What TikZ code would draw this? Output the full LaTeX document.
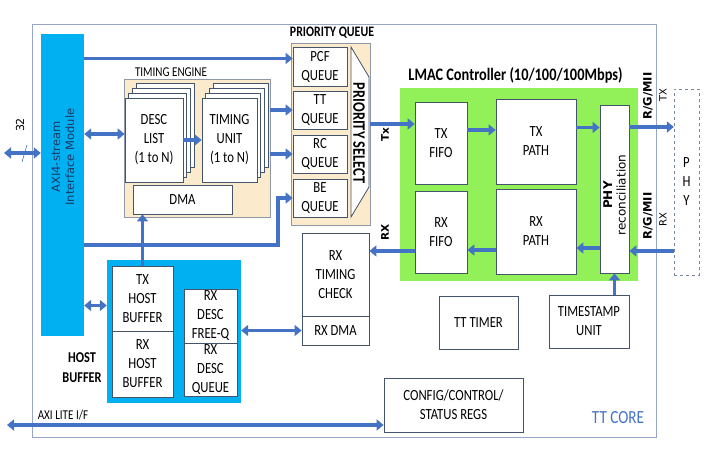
\documentclass[tikz,border=0pt]{standalone}
\usepackage{fontspec}
\setmainfont{Carlito}[FakeStretch=0.82]
\newfontfamily\widefont{DejaVu Sans}
\usetikzlibrary{arrows.meta}

\definecolor{busblue}{RGB}{68,114,196}
\definecolor{cyanblk}{RGB}{0,176,240}
\definecolor{engbeige}{RGB}{252,234,204}
\definecolor{macgreen}{RGB}{146,240,88}
\definecolor{boxline}{RGB}{68,84,106}
\definecolor{coreline}{RGB}{150,165,200}
\definecolor{navytext}{RGB}{31,56,100}

\begin{document}
\begin{tikzpicture}[x=1pt, y=-1pt,
  font=\fontsize{15.5}{19}\selectfont,
  blk/.style={draw=boxline, line width=0.8pt, fill=white, align=center, inner sep=0pt},
  bus/.style={busblue, line width=3.5pt, -{Triangle[width=11pt,length=7pt]}},
  bibus/.style={bus, {Triangle[width=11pt,length=7pt]}-{Triangle[width=11pt,length=7pt]}},
  sidelbl/.style={font=\widefont\bfseries\fontsize{10.5}{12}\selectfont, rotate=90, align=center}]
  \useasboundingbox (0,0) rectangle (720,462);

  % Define nodes
  \node[draw=coreline, line width=0.8pt, minimum width=624pt, minimum height=413pt] (core) at (344,230.5) {};
  \node[fill=cyanblk, minimum width=43pt, minimum height=302pt] (axi) at (62.5,185) {};
  \node[rotate=90, align=center, text=navytext, font=\widefont\fontsize{11.5}{14}\selectfont] (axilbl) at (63,157) {AXI4-stream\\Interface Module};

  % timing engine
  \node[draw=boxline!60, fill=engbeige, minimum width=146pt, minimum height=138pt] (te) at (197,148) {};
  \node[font=\fontsize{13.5}{15}\selectfont] (telbl) at (171,72) {TIMING ENGINE};
  \foreach \k in {3,2,1} {
    \node[blk, minimum width=58pt, minimum height=84pt] at ({154+3.7*\k},{140-4.7*\k}) {};
    \node[blk, minimum width=55pt, minimum height=84pt] at ({229.5+3.7*\k},{140-4.7*\k}) {};
  }
  \node[blk, minimum width=58pt, minimum height=84pt] (desc) at (154,140) {DESC\\LIST\\(1 to N)};
  \node[blk, minimum width=55pt, minimum height=84pt] (tu) at (229.5,140) {TIMING\\UNIT\\(1 to N)};
  \node[blk, minimum width=99pt, minimum height=29pt] (dma) at (182.5,199.5) {DMA};

  % priority queue
  \node[draw=boxline!60, fill=engbeige, minimum width=79pt, minimum height=182pt] (pq) at (330.5,134) {};
  \node[font=\bfseries\fontsize{14.5}{16}\selectfont] (pqlbl) at (332,33) {PRIORITY QUEUE};
  \node[blk, minimum width=54pt, minimum height=39pt] (pcf) at (320,66.5) {PCF\\QUEUE};
  \node[blk, minimum width=54pt, minimum height=38pt] (tt) at (320,110) {TT\\QUEUE};
  \node[blk, minimum width=54pt, minimum height=38pt] (rc) at (320,154) {RC\\QUEUE};
  \node[blk, minimum width=54pt, minimum height=38pt] (be) at (320,198) {BE\\QUEUE};
  \draw[boxline, line width=0.8pt, fill=white] (351,47) -- (369,77) -- (369,187) -- (351,217) -- cycle;
  \node[rotate=-90, font=\bfseries\fontsize{17.5}{18}\selectfont] (pslbl) at (359,133) {PRIORITY SELECT};

  % LMAC controller
  \node[fill=macgreen, minimum width=238pt, minimum height=193pt] (lmac) at (519,184.5) {};
  \node[font=\bfseries\fontsize{17.5}{20}\selectfont] (lmaclbl) at (515.5,75) {LMAC Controller (10/100/100Mbps)};
  \node[blk, minimum width=52pt, minimum height=82pt] (txfifo) at (441,143) {TX\\FIFO};
  \node[blk, minimum width=80pt, minimum height=85pt] (txpath) at (536,141.5) {TX\\PATH};
  \node[blk, minimum width=52pt, minimum height=82pt] (rxfifo) at (441,232) {RX\\FIFO};
  \node[blk, minimum width=80pt, minimum height=85pt] (rxpath) at (536,231.5) {RX\\PATH};
  \node[blk, minimum width=29pt, minimum height=168pt] (recon) at (614.5,189) {};
  \node[rotate=90, align=center, font=\widefont\fontsize{12}{13.5}\selectfont] (reconlbl) at (614.5,195) {\textbf{PHY}\\reconciliation};
  \node[draw=boxline!70, dashed, minimum width=25pt, minimum height=186pt, align=center] (phy) at (686.5,182) {P\\H\\Y};

  % rx side and timers
  \node[blk, minimum width=67pt, minimum height=83pt] (rxtc) at (335.5,274.5) {RX\\TIMING\\CHECK};
  \node[blk, minimum width=67pt, minimum height=29pt] (rxdma) at (335.5,330.5) {RX DMA};
  \node[blk, minimum width=79pt, minimum height=53pt] (timer) at (478.5,322.5) {TT TIMER};
  \node[blk, minimum width=80pt, minimum height=53pt] (ts) at (589,321.5) {TIMESTAMP\\UNIT};
  \node[blk, minimum width=139pt, minimum height=54pt] (config) at (453.5,405) {CONFIG/CONTROL/\\STATUS REGS};

  % host buffer
  \node[fill=cyanblk, minimum width=134pt, minimum height=143pt] (hb) at (174,331.5) {};
  \node[blk, minimum width=61pt, minimum height=65pt] (txhb) at (142.5,298.5) {TX\\HOST\\BUFFER};
  \node[blk, minimum width=61pt, minimum height=66pt] (rxhb) at (142.5,364) {RX\\HOST\\BUFFER};
  \node[blk, minimum width=53pt, minimum height=54pt] (freeq) at (210.5,316) {RX\\DESC\\FREE-Q};
  \node[blk, minimum width=53pt, minimum height=53pt] (descq) at (210.5,369.5) {RX\\DESC\\QUEUE};
  \node[align=center, font=\bfseries\fontsize{15}{20}\selectfont] (hblbl) at (82,368) {HOST\\BUFFER};

  % labels
  \node[font=\fontsize{13.5}{15}\selectfont] (litelbl) at (63,415) {AXI LITE I/F};
  \node[text=busblue, font=\fontsize{18.5}{20}\selectfont] (corelbl) at (618,418) {TT CORE};
  \node[sidelbl, font=\widefont\fontsize{11}{12}\selectfont] (buslbl) at (20,125) {32};
  \node[sidelbl] (txlbl) at (385,135) {Tx};
  \node[sidelbl] (rxlbl) at (385,232) {RX};
  \node[sidelbl, font=\widefont\bfseries\fontsize{11.5}{12}\selectfont] (rgmiitx) at (648,96) {R/G/MII};
  \node[sidelbl, font=\widefont\fontsize{10}{11}\selectfont] (phytx) at (663,95) {TX};
  \node[sidelbl, font=\widefont\bfseries\fontsize{11.5}{12}\selectfont] (rgmiirx) at (648,216) {R/G/MII};
  \node[sidelbl, font=\widefont\fontsize{10}{11}\selectfont] (phyrx) at (663,220) {RX};

  \coordinate (ext32) at (4,153);
  \coordinate (axilite) at (7,425);
  \coordinate (bejoin) at (278,245);

  % Draw edges
  \draw[bibus] (ext32) -- (ext32 -| axi.west);
  \draw[busblue, line width=0.6pt] (22,162) -- (27,145);
  \draw[bus] ([yshift=8pt]pcf.west -| axi.east) -- ([yshift=8pt]pcf.west);
  \draw[bibus] ([yshift=6pt]desc.west -| axi.east) -- ([yshift=6pt]desc.west);
  \draw[bus] (desc.east) -- (tu.west);
  \draw[bus] (tt.west -| te.east) -- (tt.west);
  \draw[bus] (rc.west -| te.east) -- (rc.west);
  \draw[bus] (bejoin -| axi.east) -- (bejoin) |- (be.west);
  \draw[bus] (txhb.north) -- (txhb.north |- dma.south);
  \draw[bibus] ([yshift=26pt]hb.west -| axi.east) -- ([yshift=26pt]hb.west);
  \draw[bibus] (hb.east |- rxdma.west) -- (rxdma.west);
  \draw[bus] ([yshift=19pt]txfifo.west -| pq.east) -- ([yshift=19pt]txfifo.west);
  \draw[bus] ([yshift=13pt]txfifo.east) -- ([yshift=13pt]txfifo.east -| txpath.west);
  \draw[bus] ([yshift=14pt]txpath.east) -- ([yshift=14pt]txpath.east -| recon.west);
  \draw[bus] ([yshift=62pt]recon.east) -- ([yshift=62pt]recon.east -| phy.west);
  \draw[bus] ([yshift=-69pt]phy.west) -- ([yshift=-69pt]phy.west -| recon.east);
  \draw[bus] ([yshift=-59pt]recon.west) -- ([yshift=-59pt]recon.west -| rxpath.east);
  \draw[bus] ([yshift=-18.5pt]rxpath.west) -- ([yshift=-18.5pt]rxpath.west -| rxfifo.east);
  \draw[bus] ([yshift=-19pt]rxfifo.west) -- ([yshift=-19pt]rxfifo.west -| rxtc.east);
  \draw[bus] (recon.south |- ts.north) -- (recon.south);
  \draw[bibus] (axilite) -- (axilite -| config.west);
\end{tikzpicture}
\end{document}
